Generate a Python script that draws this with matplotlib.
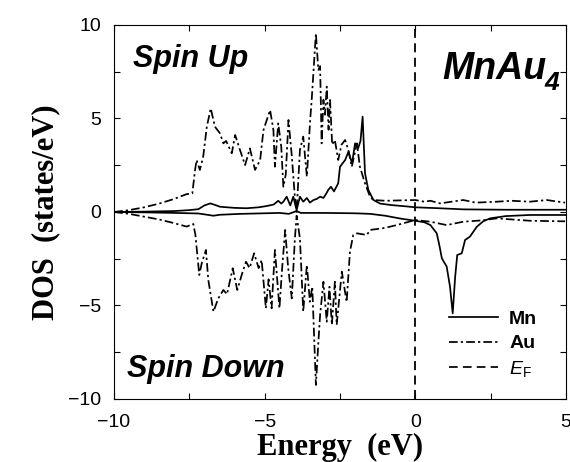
import matplotlib
matplotlib.use('Agg')
import matplotlib.pyplot as plt
from matplotlib.lines import Line2D

# ---- data (energy in eV, DOS in states/eV) ----
e_au_up = [-10.0, -9.5, -9.0, -8.5, -8.0, -7.6, -7.4, -7.31, -7.26, -7.15,
           -7.04, -6.92, -6.79, -6.65, -6.48, -6.37, -6.28, -6.09, -5.98, -5.82,
           -5.65, -5.49, -5.32, -5.15, -5.04, -4.93, -4.82, -4.71, -4.66, -4.55,
           -4.45, -4.38, -4.30, -4.21, -4.10, -3.99, -3.94, -3.83, -3.72, -3.60,
           -3.49, -3.44, -3.30, -3.22, -3.16, -3.11, -3.05, -3.00, -2.94, -2.88,
           -2.83, -2.76, -2.67, -2.56, -2.45, -2.33, -2.22, -2.11, -1.94, -1.84,
           -1.67, -1.50, -1.39, -1.0, -0.5, 0.0, 0.3, 0.5, 0.82, 1.2,
           1.59, 2.0, 2.7, 3.2, 3.8, 4.36, 4.97]
au_up = [0.0, 0.1, 0.25, 0.45, 0.7, 0.95, 1.0, 2.25, 2.78, 2.25,
         2.96, 4.56, 5.54, 4.56, 4.2, 3.67, 3.8, 3.14, 4.12, 3.32,
         2.51, 3.4, 2.25, 2.78, 4.38, 4.92, 5.45, 4.38, 2.42, 4.74,
         3.5, 1.35, 2.0, 4.92, 3.0, 0.64, 0.0, 3.32, 4.03, 1.89,
         4.92, 5.99, 9.55, 7.6, 7.8, 3.67, 6.0, 5.2, 6.7, 4.4,
         5.99, 3.6, 3.85, 2.78, 3.6, 3.85, 3.3, 2.42, 3.67, 2.42,
         1.53, 0.8, 0.64, 0.6, 0.62, 0.64, 0.55, 0.6, 0.46, 0.55,
         0.64, 0.5, 0.55, 0.6, 0.55, 0.64, 0.5]

e_au_dn = [-10.0, -9.5, -9.0, -8.5, -8.0, -7.59, -7.37, -7.3, -7.17, -7.09,
           -6.95, -6.87, -6.70, -6.54, -6.37, -6.25, -6.06, -5.91, -5.75, -5.62,
           -5.5, -5.35, -5.2, -5.1, -4.96, -4.87, -4.77, -4.66, -4.51, -4.42,
           -4.32, -4.22, -4.10, -4.0, -3.94, -3.83, -3.72, -3.60, -3.5, -3.42,
           -3.30, -3.22, -3.16, -3.05, -2.94, -2.85, -2.77, -2.67, -2.61, -2.44,
           -2.28, -2.17, -2.06, -1.94, -1.61, -1.50, -1.0, -0.62, 0.0, 0.5,
           1.04, 1.59, 2.2, 2.7, 3.81, 4.97]
au_dn = [0.0, -0.1, -0.25, -0.4, -0.6, -0.78, -0.64, -1.2, -3.37, -2.75,
         -2.03, -3.64, -5.33, -4.62, -4.17, -4.4, -3.01, -4.17, -3.3, -2.66,
         -3.0, -2.21, -3.0, -2.57, -5.15, -3.6, -5.15, -2.03, -5.15, -3.0,
         -0.96, -3.0, -4.62, -1.5, -0.2, -1.41, -5.33, -2.83, -4.8, -4.0,
         -9.25, -7.02, -5.5, -3.73, -5.87, -4.0, -6.04, -3.73, -6.04, -3.19,
         -4.81, -2.12, -1.23, -1.14, -1.23, -0.96, -0.85, -0.7, -0.43, -0.52,
         -0.7, -0.52, -0.45, -0.34, -0.47, -0.5]

e_mn_up = [-10.0, -9.0, -8.0, -7.5, -7.2, -7.0, -6.8, -6.6, -6.48, -6.0,
           -5.6, -5.2, -4.93, -4.7, -4.55, -4.45, -4.38, -4.27, -4.15, -4.05,
           -3.94, -3.83, -3.72, -3.6, -3.5, -3.38, -3.27, -3.16, -3.05, -2.95,
           -2.89, -2.8, -2.7, -2.56, -2.5, -2.33, -2.22, -2.1, -2.0, -1.9,
           -1.82, -1.75, -1.67, -1.56, -1.39, -1.17, -0.8, -0.3, 0.0, 0.8,
           1.6, 3.0, 5.0]
mn_up = [0.0, 0.02, 0.05, 0.1, 0.15, 0.35, 0.46, 0.35, 0.28, 0.22,
         0.2, 0.25, 0.32, 0.4, 0.6, 0.45, 0.55, 0.82, 0.35, 0.82,
         0.1, 0.82, 0.55, 0.75, 0.5, 0.64, 0.7, 0.82, 0.75, 1.0,
         1.18, 1.35, 1.1, 1.53, 2.42, 2.78, 3.22, 2.6, 3.67, 3.4,
         3.8, 5.1, 2.07, 1.18, 0.64, 0.45, 0.37, 0.3, 0.25, 0.2,
         0.14, 0.12, 0.12]

e_mn_dn = [-10.0, -9.0, -8.0, -7.2, -6.9, -6.7, -6.5, -5.8, -5.0, -4.5,
           -4.2, -3.94, -3.8, -3.0, -2.0, -1.5, -1.0, -0.5, 0.0, 0.3,
           0.5, 0.71, 0.8, 0.88, 1.04, 1.15, 1.24, 1.32, 1.39, 1.54,
           1.65, 1.81, 2.04, 2.25, 2.48, 3.0, 3.81, 5.0]
mn_dn = [0.0, -0.02, -0.05, -0.08, -0.15, -0.2, -0.15, -0.1, -0.07, -0.05,
         -0.1, 0.05, -0.05, -0.05, -0.07, -0.1, -0.2, -0.35, -0.47, -0.55,
         -0.7, -1.14, -1.8, -2.48, -2.92, -3.99, -5.42, -3.5, -2.3, -2.21,
         -1.5, -1.32, -0.79, -0.5, -0.34, -0.22, -0.16, -0.16]

E_FERMI = 0.0


def main():
    plt.rcParams['font.family'] = 'Liberation Sans'
    plt.rcParams['mathtext.fontset'] = 'custom'
    plt.rcParams['mathtext.rm'] = 'Liberation Sans'
    plt.rcParams['mathtext.it'] = 'Liberation Sans:italic'

    fig = plt.figure(figsize=(5.7, 4.62), dpi=100)
    ax = fig.add_axes([0.2, 0.1364, 0.793, 0.8095])

    dashdot = (0, (5, 1.8, 1.3, 1.8))
    lw = 1.25

    # spin up
    ax.plot(e_mn_up, mn_up, '-', color='black', linewidth=lw)
    ax.plot(e_au_up, au_up, linestyle=dashdot, color='black', linewidth=lw)
    # spin down
    ax.plot(e_mn_dn, mn_dn, '-', color='black', linewidth=lw)
    ax.plot(e_au_dn, au_dn, linestyle=dashdot, color='black', linewidth=lw)

    # Fermi level
    ax.axvline(E_FERMI, color='black', linestyle=(0, (5, 3)), linewidth=1.3)

    ax.set_xlim(-10, 5)
    ax.set_ylim(-10, 10)
    ax.set_xticks([-10, -5, 0, 5])
    ax.set_xticks([-7.5, -2.5, 2.5], minor=True)
    ax.set_yticks([-10, -5, 0, 5, 10])
    ax.set_yticks([-7.5, -2.5, 2.5, 7.5], minor=True)
    ax.set_xticklabels(['\u221210', '\u22125', '0', '5'])
    ax.set_yticklabels(['\u221210', '\u22125', '0', '5', '10'])
    ax.tick_params(which='both', direction='in', top=True, right=True,
                   length=4, width=0.8, labelsize=14)
    ax.tick_params(axis='x', pad=11)
    ax.tick_params(axis='y', pad=9)

    ax.set_xlabel('Energy  (eV)', family='Liberation Serif', weight='bold',
                  fontsize=22, labelpad=1)
    ax.set_ylabel('DOS  (states/eV)', family='Liberation Serif', weight='bold',
                  fontsize=22, labelpad=6)

    # panel labels
    ax.text(0.042, 0.888, 'Spin Up', transform=ax.transAxes, fontsize=22,
            weight='bold', style='italic', va='baseline')
    ax.text(0.029, 0.059, 'Spin Down', transform=ax.transAxes, fontsize=22,
            weight='bold', style='italic', va='baseline')
    ax.text(0.726, 0.856, 'MnAu', transform=ax.transAxes, fontsize=27,
            weight='bold', style='italic', va='baseline')
    ax.text(0.952, 0.826, '4', transform=ax.transAxes, fontsize=19,
            weight='bold', style='italic', va='baseline')

    handles = [Line2D([], [], color='black', linestyle='-', linewidth=lw),
               Line2D([], [], color='black', linestyle=dashdot, linewidth=lw),
               Line2D([], [], color='black', linestyle=(0, (5, 3)), linewidth=lw)]
    labels = ['Mn', 'Au', r'$E_{\mathrm{F}}$']
    ax.legend(handles, labels, loc='upper left', bbox_to_anchor=(0.741, 0.237),
              frameon=False, borderpad=0, borderaxespad=0, handlelength=2.5,
              handletextpad=0.6, labelspacing=0.35,
              prop={'weight': 'bold', 'size': 14})

    fig.savefig('out.png', dpi=100)


if __name__ == "__main__":
    main()
